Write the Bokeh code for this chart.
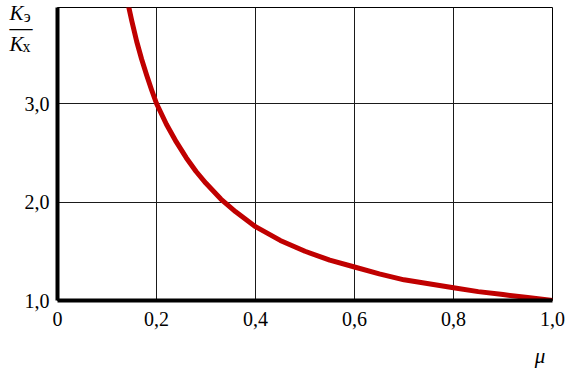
from bokeh.plotting import figure
from bokeh.models import FixedTicker, Range1d, LinearAxis
from bokeh.embed import file_html
from bokeh.resources import INLINE

# Data
mu = [0.14, 0.15, 0.16, 0.17, 0.18, 0.19, 0.20, 0.22, 0.24, 0.26, 0.28, 0.30,
      0.33, 0.36, 0.40, 0.45, 0.50, 0.55, 0.60, 0.65, 0.70, 0.75, 0.80, 0.85,
      0.90, 0.95, 1.00]
k_ratio = [4.07, 3.84, 3.63, 3.45, 3.29, 3.14, 3.00, 2.79, 2.61, 2.45, 2.31, 2.19,
           2.03, 1.90, 1.75, 1.61, 1.50, 1.41, 1.34, 1.27, 1.21, 1.17, 1.13, 1.09,
           1.06, 1.03, 1.00]

x_ticks = [0, 0.2, 0.4, 0.6, 0.8, 1.0]
x_tick_labels = ["0", "0,2", "0,4", "0,6", "0,8", "1,0"]
y_ticks = [1, 2, 3]
y_tick_labels = ["1,0", "2,0", "3,0"]

# axis-title pieces: fraction K_э / K_х on the y axis, μ on the x axis
frac_main = {3.919: "K", 3.604: "K"}
frac_sub = {3.886: "э", 3.576: "х"}
frac_bar = {3.77: "—"}
x_title = {0.975: "μ"}

SERIF = "Liberation Serif"

p = figure(width=578, height=372, output_backend="svg", toolbar_location=None,
           x_range=Range1d(0, 1.0), y_range=Range1d(1.0, 3.975),
           min_border_left=57, min_border_right=26, min_border_top=7,
           min_border_bottom=72)
p.background_fill_color = "white"
p.border_fill_color = "white"
p.outline_line_color = "black"
p.outline_line_width = 1

p.line(mu, k_ratio, line_color="#C00000", line_width=5, line_join="round")


def style_axis(ax, size="20px", style="normal", font=SERIF):
    ax.major_tick_line_color = None
    ax.minor_tick_line_color = None
    ax.major_tick_out = 0
    ax.major_tick_in = 0
    ax.minor_tick_out = 0
    ax.minor_tick_in = 0
    ax.major_label_text_font = font
    ax.major_label_text_font_size = size
    ax.major_label_text_font_style = style
    ax.major_label_text_color = "black"


# main axes
for ax in (p.xaxis[0], p.yaxis[0]):
    style_axis(ax)
    ax.axis_line_width = 4
    ax.axis_line_color = "black"

p.xaxis.ticker = FixedTicker(ticks=x_ticks)
p.xaxis.major_label_overrides = {t: l for t, l in zip(x_ticks, x_tick_labels)}
p.xaxis.major_label_standoff = 11
p.yaxis.ticker = FixedTicker(ticks=y_ticks)
p.yaxis.major_label_overrides = {t: l for t, l in zip(y_ticks, y_tick_labels)}
p.yaxis.major_label_standoff = 8

p.xgrid.ticker = FixedTicker(ticks=x_ticks)
p.ygrid.ticker = FixedTicker(ticks=y_ticks)
for g in (p.xgrid[0], p.ygrid[0]):
    g.grid_line_color = "#1a1a1a"
    g.grid_line_width = 1


def title_axis(labels, standoff, size, style, side):
    ax = LinearAxis(ticker=FixedTicker(ticks=list(labels.keys())),
                    major_label_overrides=dict(labels), major_label_standoff=standoff,
                    axis_line_color=None)
    style_axis(ax, size=size, style=style)
    p.add_layout(ax, side)
    return ax


# y-axis title as a fraction (stacked label-only axes, nudged inward)
title_axis(frac_sub, -9, "16px", "normal", "left")
title_axis(frac_main, -4, "21px", "italic", "left")
title_axis(frac_bar, -26, "23px", "normal", "left")
# x-axis title
title_axis(x_title, 15, "21px", "italic", "below")

open("out.html", "w").write(file_html(p, INLINE))
